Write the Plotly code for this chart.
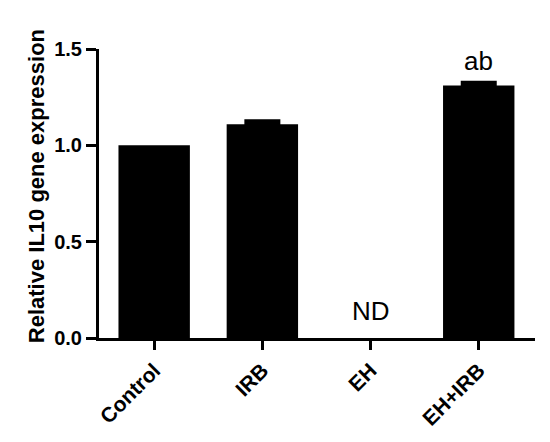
import plotly.graph_objects as go

categories = ["Control", "IRB", "EH", "EH+IRB"]
values = [1.0, 1.11, 0.0, 1.31]
err_categories = ["IRB", "EH+IRB"]
err_means = [1.11, 1.31]
err_plus = [0.015, 0.015]
labels = ["", "", "ND", "ab"]
label_y = [None, None, 0.14, 1.44]
y_ticks = [0.0, 0.5, 1.0, 1.5]
y_ticktext = ["0.0", "0.5", "1.0", "1.5"]

FONT = "Liberation Sans, Arial, sans-serif"

fig = go.Figure()
fig.add_trace(go.Bar(
    x=categories, y=values, width=0.66,
    marker=dict(color="black", line=dict(width=0)),
    showlegend=False, hoverinfo="x+y",
))
fig.add_trace(go.Scatter(
    x=err_categories, y=err_means, mode="markers",
    marker=dict(size=1, opacity=0, color="black"),
    error_y=dict(type="data", symmetric=False, array=err_plus,
                 arrayminus=[0, 0], color="black", thickness=4, width=18),
    showlegend=False, hoverinfo="skip",
))

for c, t, ly in zip(categories, labels, label_y):
    if t:
        fig.add_annotation(x=c, y=ly, text=t, showarrow=False,
                           font=dict(family=FONT, size=26, color="black"),
                           xref="x", yref="y")

fig.add_annotation(xref="paper", yref="paper", x=-0.143, y=0.524,
                   xanchor="center", yanchor="middle",
                   text="<b>Relative IL10 gene expression</b>", textangle=-90,
                   showarrow=False, font=dict(family=FONT, size=22, color="black"))

fig.update_layout(
    width=542, height=434,
    margin=dict(l=91, r=15, t=41, b=101),
    paper_bgcolor="white", plot_bgcolor="white",
    font=dict(family=FONT, color="black"),
)
fig.update_xaxes(
    range=[-0.51, 3.52], showline=True, linecolor="black", linewidth=3,
    ticks="outside", ticklen=9, tickwidth=3, tickcolor="black",
    tickangle=-45, tickfont=dict(family=FONT, size=21, color="black", weight="bold"),
    showgrid=False, zeroline=False,
)
fig.update_yaxes(
    range=[0, 1.5], tickvals=y_ticks, ticktext=y_ticktext,
    showline=True, linecolor="black", linewidth=3,
    ticks="outside", ticklen=10, tickwidth=3, tickcolor="black",
    tickfont=dict(family=FONT, size=20, color="black", weight="bold"),
    showgrid=False, zeroline=False,
)

fig.write_html("out.html")
